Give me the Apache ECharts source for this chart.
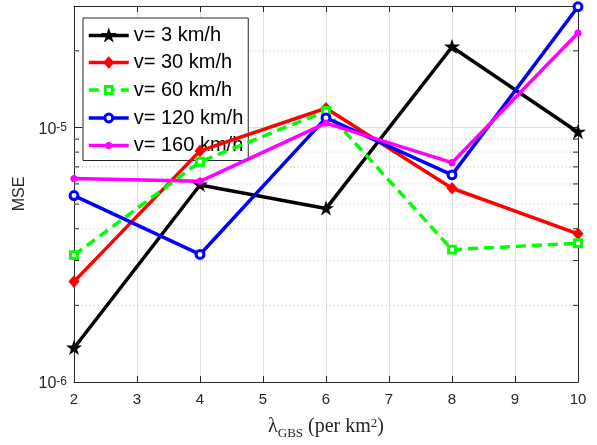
<!DOCTYPE html>
<html>
<head>
<meta charset="utf-8">
<script src="https://cdn.jsdelivr.net/npm/echarts@6/dist/echarts.min.js"></script>
<style>
html,body{margin:0;padding:0;background:#fff;}
#chart{width:597px;height:445px;}
</style>
</head>
<body>
<div id="chart"></div>
<script>
// ---- data ----
var lambdaGBS = [2, 4, 6, 8, 10];
var seriesNames = ['v= 3 km/h', 'v= 30 km/h', 'v= 60 km/h', 'v= 120 km/h', 'v= 160 km/h'];
var mseV3   = [1.36e-6, 5.94e-6, 4.80e-6, 2.07e-5, 9.58e-6];
var mseV30  = [2.48e-6, 8.09e-6, 1.19e-5, 5.77e-6, 3.82e-6];
var mseV60  = [3.15e-6, 7.33e-6, 1.16e-5, 3.31e-6, 3.51e-6];
var mseV120 = [5.40e-6, 3.17e-6, 1.09e-5, 6.51e-6, 2.98e-5];
var mseV160 = [6.30e-6, 6.14e-6, 1.04e-5, 7.27e-6, 2.35e-5];
var xTicks = [2, 3, 4, 5, 6, 7, 8, 9, 10];
var minorYValues = [2e-6, 3e-6, 4e-6, 5e-6, 6e-6, 7e-6, 8e-6, 9e-6, 2e-5];

function pairs(ys) { return lambdaGBS.map(function (x, i) { return [x, ys[i]]; }); }

var AX = '#262626';
var FONT = '"Liberation Sans", Arial, Helvetica, sans-serif';
var SERIF = '"Liberation Serif", "Times New Roman", serif';
// marker shapes inside a 100x100 box (corner moveTo points fix the box size)
var BOX = 'M0,0 M100,100 ';
var STAR = 'path://' + BOX + 'M50,4 L60.5,36.5 L94.6,36.5 L67,56.5 L77.5,89 L50,69 L22.5,89 L33,56.5 L5.4,36.5 L39.5,36.5 Z';
var DIAMOND = 'path://' + BOX + 'M50,15 L81,50 L50,85 L19,50 Z';
var SQUARE = 'path://' + BOX + 'M31,31 L69,31 L69,69 L31,69 Z';
var CIRCLE = 'path://' + BOX + 'M50,28 A22,22 0 1 1 50,72 A22,22 0 1 1 50,28 Z';
var DOT = 'path://' + BOX + 'M50,30 A20,20 0 1 1 50,70 A20,20 0 1 1 50,30 Z';
var SYM = 18;

var chart = echarts.init(document.getElementById('chart'), null, {renderer: 'canvas'});

function yLabel(v) {
  var l = Math.log10(v);
  var e = Math.round(l);
  if (Math.abs(l - e) > 1e-6) return '';
  return '{b|10}{s|' + e + '}';
}

var lineW = 3.5;
var option = {
  backgroundColor: '#ffffff',
  animation: false,
  grid: {left: 74, right: 19, top: 6, bottom: 57, show: false, containLabel: false},
  legend: {
    data: seriesNames,
    orient: 'vertical',
    left: 83, top: 18,
    padding: [7.5, 5, 5, 4],
    itemWidth: 40, itemHeight: 22.5, itemGap: 7,
    backgroundColor: '#ffffff',
    borderColor: AX, borderWidth: 1,
    lineStyle: {width: 'inherit'},
    itemStyle: {borderWidth: 'inherit'},
    textStyle: {fontFamily: FONT, fontSize: 20, color: '#000'},
    selectedMode: false
  },
  xAxis: [{
    type: 'value', min: 2, max: 10, interval: 1,
    position: 'bottom',
    axisLine: {show: true, lineStyle: {color: AX, width: 1}},
    axisTick: {show: true, inside: true, length: 6, lineStyle: {color: AX}},
    axisLabel: {fontFamily: FONT, fontSize: 15, color: AX, margin: 10,
      formatter: function (v) { return xTicks.indexOf(v) >= 0 ? String(v) : ''; }},
    splitLine: {show: true, lineStyle: {color: '#dedede', width: 1}},
    name: '{l|\u03bb}{sub|GBS}{n| (per km}{sup|2}{n|)}',
    nameLocation: 'middle', nameGap: 35,
    nameTextStyle: {
      fontFamily: SERIF, color: AX,
      rich: {
        l: {fontFamily: SERIF, fontSize: 20, color: AX, verticalAlign: 'bottom', lineHeight: 20},
        sub: {fontFamily: SERIF, fontSize: 13, color: AX, verticalAlign: 'bottom', lineHeight: 20, padding: [0, 0, -3, 0]},
        n: {fontFamily: SERIF, fontSize: 20, color: AX, verticalAlign: 'bottom', lineHeight: 20},
        sup: {fontFamily: SERIF, fontSize: 13, color: AX, verticalAlign: 'top', lineHeight: 13}
      }
    }
  }, {
    type: 'value', min: 2, max: 10, interval: 1,
    position: 'top',
    axisLine: {show: true, lineStyle: {color: AX, width: 1}},
    axisTick: {show: true, inside: true, length: 6, lineStyle: {color: AX}},
    axisLabel: {show: false},
    splitLine: {show: false}
  }],
  yAxis: [{
    type: 'log', logBase: 10, min: 1e-6, max: 3e-5,
    position: 'left',
    axisLine: {show: true, lineStyle: {color: AX, width: 1}},
    axisTick: {show: true, inside: true, length: 8, lineStyle: {color: AX}},
    axisLabel: {
      margin: 7, formatter: yLabel, padding: [4, 0, 0, 0],
      rich: {
        b: {fontFamily: FONT, fontSize: 16, color: AX, verticalAlign: 'bottom', lineHeight: 16},
        s: {fontFamily: FONT, fontSize: 12, color: AX, verticalAlign: 'top', lineHeight: 12, padding: [0, 0, 7, 0]}
      }
    },
    splitLine: {show: true, lineStyle: {color: '#dedede', width: 1}},
    name: 'MSE', nameLocation: 'middle', nameGap: 41,
    nameTextStyle: {fontFamily: FONT, fontSize: 16, color: AX}
  }, {
    type: 'log', logBase: 10, min: 1e-6, max: 3e-5,
    position: 'right',
    axisLine: {show: true, lineStyle: {color: AX, width: 1}},
    axisTick: {show: true, inside: true, length: 8, lineStyle: {color: AX}},
    axisLabel: {show: false},
    splitLine: {show: false}
  }],
  series: [
    {
      // minor grid lines (dotted) + minor ticks, placed through the axes' own scales
      type: 'custom', name: 'minor', silent: true, z: 1,
      xAxisIndex: 0, yAxisIndex: 0, clip: false,
      data: minorYValues.map(function (v) { return [2, v]; }),
      renderItem: function (params, api) {
        var v = api.value(1);
        var p1 = api.coord([2, v]);
        var p2 = api.coord([10, v]);
        return {type: 'group', children: [
          {type: 'line', shape: {x1: p1[0], y1: p1[1], x2: p2[0], y2: p2[1]},
            style: {stroke: '#c4c4c4', lineWidth: 1, lineDash: [1, 3]}},
          {type: 'line', shape: {x1: p1[0], y1: p1[1], x2: p1[0] + 5, y2: p1[1]},
            style: {stroke: AX, lineWidth: 1}},
          {type: 'line', shape: {x1: p2[0] - 5, y1: p2[1], x2: p2[0], y2: p2[1]},
            style: {stroke: AX, lineWidth: 1}}
        ]};
      }
    },
    {
      name: seriesNames[0], type: 'line', data: pairs(mseV3), clip: false, z: 3,
      symbol: STAR, symbolSize: SYM,
      lineStyle: {color: '#000000', width: lineW},
      itemStyle: {color: '#000000', borderColor: '#000000', borderWidth: 0}
    },
    {
      name: seriesNames[1], type: 'line', data: pairs(mseV30), clip: false, z: 4,
      symbol: DIAMOND, symbolSize: SYM,
      lineStyle: {color: '#ff0000', width: lineW},
      itemStyle: {color: '#ff0000', borderColor: '#ff0000', borderWidth: 0}
    },
    {
      name: seriesNames[2], type: 'line', data: pairs(mseV60), clip: false, z: 5,
      symbol: SQUARE, symbolSize: SYM,
      lineStyle: {color: '#00ff00', width: lineW, type: [10, 6]},
      itemStyle: {color: '#ffffff', borderColor: '#00ff00', borderWidth: 3}
    },
    {
      name: seriesNames[3], type: 'line', data: pairs(mseV120), clip: false, z: 6,
      symbol: CIRCLE, symbolSize: SYM,
      lineStyle: {color: '#0000ff', width: lineW},
      itemStyle: {color: '#ffffff', borderColor: '#0000ff', borderWidth: 3}
    },
    {
      name: seriesNames[4], type: 'line', data: pairs(mseV160), clip: false, z: 7,
      symbol: DOT, symbolSize: SYM,
      lineStyle: {color: '#ff00ff', width: lineW},
      itemStyle: {color: '#ff00ff', borderColor: '#ff00ff', borderWidth: 0}
    }
  ]
};
chart.setOption(option);
</script>
</body>
</html>
